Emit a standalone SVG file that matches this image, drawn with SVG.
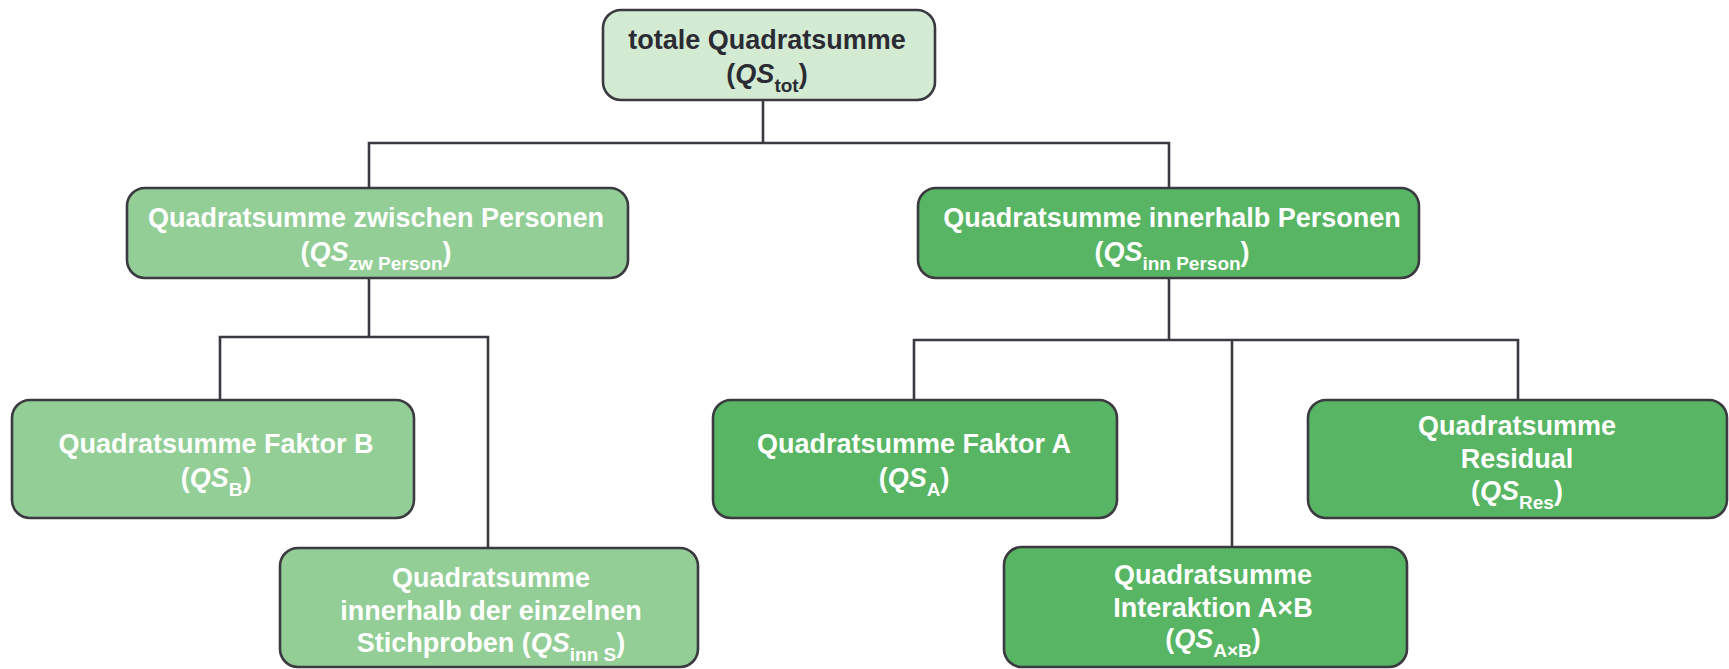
<svg xmlns="http://www.w3.org/2000/svg" width="1729" height="669" viewBox="0 0 1729 669">
<style>
  .box { stroke: #3a3a40; stroke-width: 2.6; }
  .l0 { fill: #d3ead3; }
  .l1 { fill: #92ce96; }
  .l2 { fill: #57b563; }
  .t { font-family: "Liberation Sans", Arial, sans-serif; font-weight: bold; font-size: 27px; text-anchor: middle; fill: #ffffff; }
  .dark { fill: #2b2b33; }
  .it { font-style: italic; }
  .sub { font-size: 19px; }
  .con { fill: none; stroke: #3a3a40; stroke-width: 2.6; }
</style>
<rect width="1729" height="669" fill="#ffffff"/>
<g id="connectors">
  <path class="con" d="M763 100 V143 M369 188 V143 H1169 V188"/>
  <path class="con" d="M369 278 V337 M220 400 V337 H488 V548"/>
  <path class="con" d="M1169 278 V340 M914 400 V340 H1518 V400 M1232 340 V547"/>
</g>
<g id="total">
  <rect class="box l0" x="603" y="10" width="332" height="90" rx="18"/>
  <text class="t dark" x="767" y="49">totale Quadratsumme</text>
  <text class="t dark" x="767" y="83">(<tspan class="it">QS</tspan><tspan class="sub" dy="9">tot</tspan><tspan dy="-9">)</tspan></text>
</g>
<g id="zwischen">
  <rect class="box l1" x="127" y="188" width="501" height="90" rx="18"/>
  <text class="t" x="376" y="227">Quadratsumme zwischen Personen</text>
  <text class="t" x="376" y="261">(<tspan class="it">QS</tspan><tspan class="sub" dy="9">zw Person</tspan><tspan dy="-9">)</tspan></text>
</g>
<g id="innerhalb">
  <rect class="box l2" x="918" y="188" width="501" height="90" rx="18"/>
  <text class="t" x="1172" y="227">Quadratsumme innerhalb Personen</text>
  <text class="t" x="1172" y="261">(<tspan class="it">QS</tspan><tspan class="sub" dy="9">inn Person</tspan><tspan dy="-9">)</tspan></text>
</g>
<g id="faktorB">
  <rect class="box l1" x="12" y="400" width="402" height="118" rx="18"/>
  <text class="t" x="216" y="453">Quadratsumme Faktor B</text>
  <text class="t" x="216" y="487">(<tspan class="it">QS</tspan><tspan class="sub" dy="9">B</tspan><tspan dy="-9">)</tspan></text>
</g>
<g id="innS">
  <rect class="box l1" x="280" y="548" width="418" height="119" rx="18"/>
  <text class="t" x="491" y="587">Quadratsumme</text>
  <text class="t" x="491" y="620">innerhalb der einzelnen</text>
  <text class="t" x="491" y="652">Stichproben (<tspan class="it">QS</tspan><tspan class="sub" dy="9">inn S</tspan><tspan dy="-9">)</tspan></text>
</g>
<g id="faktorA">
  <rect class="box l2" x="713" y="400" width="404" height="118" rx="18"/>
  <text class="t" x="914" y="453">Quadratsumme Faktor A</text>
  <text class="t" x="914" y="487">(<tspan class="it">QS</tspan><tspan class="sub" dy="9">A</tspan><tspan dy="-9">)</tspan></text>
</g>
<g id="interaktion">
  <rect class="box l2" x="1004" y="547" width="403" height="120" rx="18"/>
  <text class="t" x="1213" y="584">Quadratsumme</text>
  <text class="t" x="1213" y="617">Interaktion A×B</text>
  <text class="t" x="1213" y="648">(<tspan class="it">QS</tspan><tspan class="sub" dy="9">A×B</tspan><tspan dy="-9">)</tspan></text>
</g>
<g id="residual">
  <rect class="box l2" x="1308" y="400" width="419" height="118" rx="18"/>
  <text class="t" x="1517" y="435">Quadratsumme</text>
  <text class="t" x="1517" y="468">Residual</text>
  <text class="t" x="1517" y="500">(<tspan class="it">QS</tspan><tspan class="sub" dy="9">Res</tspan><tspan dy="-9">)</tspan></text>
</g>
</svg>
